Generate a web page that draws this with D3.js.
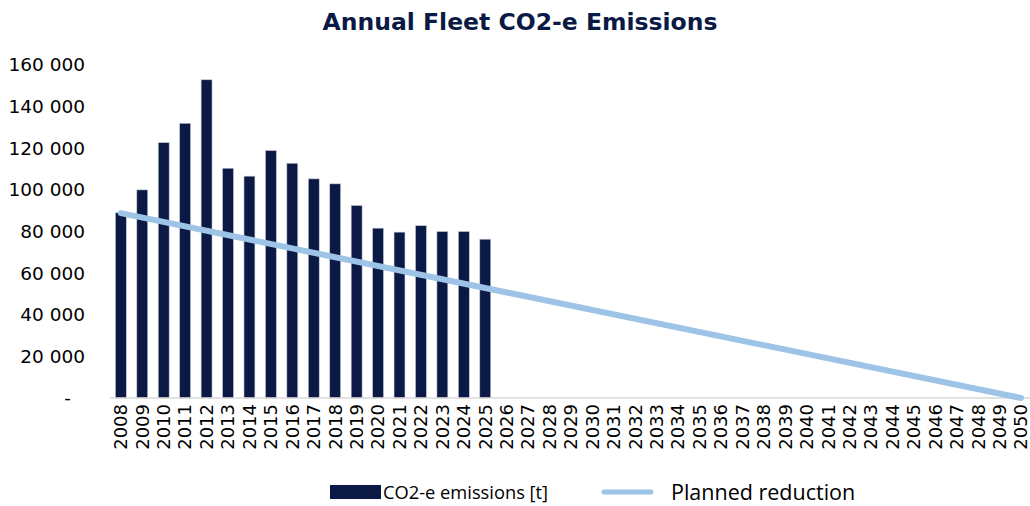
<!DOCTYPE html>
<html>
<head>
<meta charset="utf-8">
<script src="https://cdn.jsdelivr.net/npm/d3@7"></script>
<style>
  body { margin: 0; background: #fff; }
  svg { display: block; }
</style>
</head>
<body>
<svg id="chart"></svg>
<script>
var years = d3.range(2008, 2051).map(String);
var emissionYears = ["2008","2009","2010","2011","2012","2013","2014","2015","2016",
  "2017","2018","2019","2020","2021","2022","2023","2024","2025"];
var emissionValues = [89000, 100000, 122700, 132000, 152900, 110400, 106600, 118900, 112800,
  105300, 102900, 92500, 81600, 79700, 82800, 80000, 80000, 76300];
var plannedYears = ["2008", "2050"];
var plannedValues = [88800, 0];
var yTicks = [0, 20000, 40000, 60000, 80000, 100000, 120000, 140000, 160000];

var viewWidth = 1030;
var viewHeight = 506;
var navy = "#0b1a44";
var lightBlue = "#9dc3e6";

var svg = d3.select("#chart")
    .attr("width", viewWidth)
    .attr("height", viewHeight);

var x = d3.scaleBand().domain(years).range([110, 1032]).paddingInner(0.49).paddingOuter(0.25);
var y = d3.scaleLinear().domain([0, 160000]).range([398, 65]);

svg.append("text")
  .attr("x", 520)
  .attr("y", 30)
  .attr("text-anchor", "middle")
  .attr("font-family", "DejaVu Sans, Verdana, sans-serif")
  .attr("font-weight", "bold")
  .attr("font-size", 23.5)
  .attr("fill", navy)
  .text("Annual Fleet CO2-e Emissions");

// y axis labels only
var yAxis = d3.axisLeft(y)
  .tickValues(yTicks)
  .tickSize(0)
  .tickPadding(0)
  .tickFormat(function(d) { return d === 0 ? "-" : d3.format(",")(d).replace(/,/g, " "); });

var yg = svg.append("g")
  .attr("transform", "translate(85,0)")
  .call(yAxis);
yg.select(".domain").remove();
yg.selectAll("text")
  .attr("font-family", "DejaVu Sans, Verdana, sans-serif")
  .attr("font-size", 18.5)
  .attr("fill", "#000");
yg.selectAll(".tick").filter(function(d) { return d === 0; }).select("text")
  .attr("dx", -14);

// bars
svg.append("g").selectAll("rect")
  .data(emissionYears)
  .enter().append("rect")
  .attr("x", function(d) { return x(d); })
  .attr("width", x.bandwidth())
  .attr("y", function(d, i) { return y(emissionValues[i]); })
  .attr("height", function(d, i) { return y(0) - y(emissionValues[i]); })
  .attr("fill", navy)
  .attr("stroke", "#c9ccd6")
  .attr("stroke-width", 0.6);

// x axis
var xAxis = d3.axisBottom(x).tickSize(0).tickPadding(0);
var xg = svg.append("g")
  .attr("transform", "translate(0," + y(0) + ")")
  .call(xAxis);
xg.select(".domain")
  .attr("stroke", "#d9d9d9")
  .attr("stroke-width", 1.5)
  .attr("d", "M" + (x.range()[0]) + ",0H" + x.range()[1]);
xg.selectAll("text")
  .attr("font-family", "DejaVu Sans, Verdana, sans-serif")
  .attr("font-size", 18)
  .attr("fill", "#000")
  .attr("text-anchor", "end")
  .attr("transform", "rotate(-90)")
  .attr("x", -6)
  .attr("y", 0)
  .attr("dy", "0.35em");

// planned reduction line
var line = d3.line()
  .x(function(d) { return x(d) + x.bandwidth() / 2; })
  .y(function(d, i) { return y(plannedValues[i]); });

svg.append("path")
  .datum(plannedYears)
  .attr("d", line)
  .attr("fill", "none")
  .attr("stroke", lightBlue)
  .attr("stroke-width", 6)
  .attr("stroke-linecap", "round");

// legend
var legend = svg.append("g");
legend.append("rect")
  .attr("x", 330).attr("y", 485)
  .attr("width", 51).attr("height", 14)
  .attr("fill", navy);
legend.append("text")
  .attr("x", 383).attr("y", 499)
  .attr("font-family", "Open Sans, Noto Sans, sans-serif")
  .attr("font-size", 18.3)
  .attr("fill", "#000")
  .text("CO2-e emissions [t]");
legend.append("line")
  .attr("x1", 604).attr("x2", 651)
  .attr("y1", 492).attr("y2", 492)
  .attr("stroke", lightBlue)
  .attr("stroke-width", 5)
  .attr("stroke-linecap", "round");
legend.append("text")
  .attr("x", 671).attr("y", 500)
  .attr("font-family", "Open Sans, Noto Sans, sans-serif")
  .attr("font-size", 21.5)
  .attr("fill", "#000")
  .text("Planned reduction");
</script>
</body>
</html>
